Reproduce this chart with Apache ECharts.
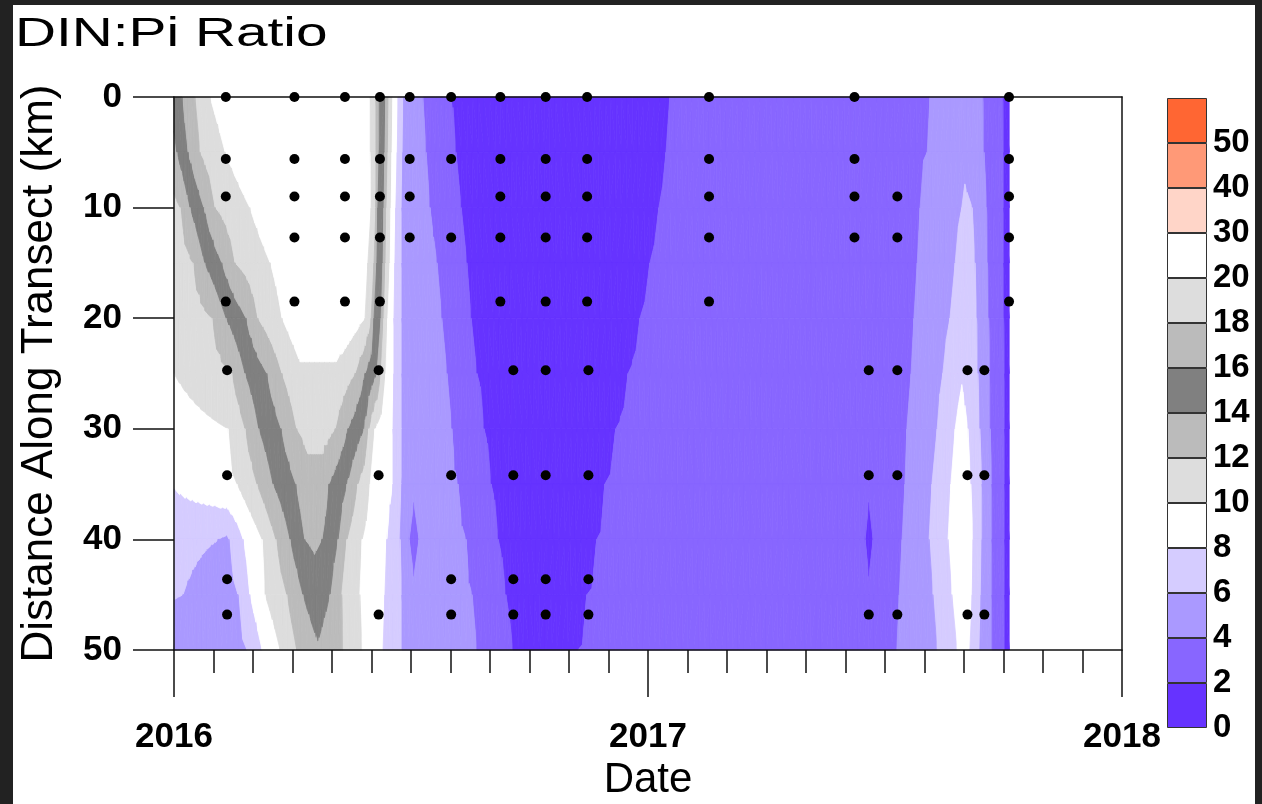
<!DOCTYPE html>
<html>
<head>
<meta charset="utf-8">
<title>DIN:Pi Ratio</title>
<script src="https://cdn.jsdelivr.net/npm/echarts@6/dist/echarts.min.js"></script>
<style>
  html, body { margin: 0; padding: 0; background: #222; width: 1262px; height: 804px; overflow: hidden; }
  #chart { position: absolute; left: 13px; top: 5px; width: 1242px; height: 799px; background: #fff; }
</style>
</head>
<body>
<div id="chart"></div>
<script>
// Contour class boundaries of the DIN:Pi ratio and the fill of each class
const levels = [0, 2, 4, 6, 8, 10, 12, 14, 16, 18, 20, 30, 40, 50];
const bandColors = [
  '#6633ff', '#8866ff', '#aa99ff', '#d5ccff', '#ffffff',
  '#dddddd', '#bbbbbb', '#808080', '#bbbbbb', '#dddddd',
  '#ffffff', '#ffd5c8', '#ff9977', '#ff6633'
];

// Distance along the transect (km) of each gridded profile row
const rowDistances = [0, 5, 10, 15, 20, 25, 30, 35, 40, 45, 50];

// Gridded ratio along each row: [decimal year, DIN:Pi]
const ratio0km = [[2016.000,14.8],[2016.017,16],[2016.044,18],[2016.076,20],[2016.245,26],[2016.414,20],[2016.426,18],[2016.433,16],[2016.447,14],[2016.454,12],[2016.462,10],[2016.473,8],[2016.485,6],[2016.525,4],[2016.582,2],[2016.772,0.6],[2017.046,2],[2017.321,3.0],[2017.595,4],[2017.658,5.4],[2017.707,4],[2017.749,2],[2017.762,1.5]];
const ratio5km = [[2016.000,13.5],[2016.006,14],[2016.030,16],[2016.055,18],[2016.108,20],[2016.266,25],[2016.414,20],[2016.426,18],[2016.433,16],[2016.445,14],[2016.452,12],[2016.460,10],[2016.471,8],[2016.483,6],[2016.532,4],[2016.595,2],[2016.793,0.6],[2017.038,2],[2017.321,3.0],[2017.589,4],[2017.662,5.6],[2017.709,4],[2017.751,2],[2017.762,1.5]];
const ratio10km = [[2016.000,11.5],[2016.013,12],[2016.034,14],[2016.063,16],[2016.087,18],[2016.160,20],[2016.287,24],[2016.416,20],[2016.426,18],[2016.430,16],[2016.443,14],[2016.449,12],[2016.458,10],[2016.468,8],[2016.481,6],[2016.540,4],[2016.606,2],[2016.804,0.6],[2017.023,2],[2017.321,3.0],[2017.574,4],[2017.662,6],[2017.673,6.3],[2017.684,6],[2017.715,4],[2017.751,2],[2017.762,1.5]];
const ratio15km = [[2016.000,10.8],[2016.040,12],[2016.065,14],[2016.101,16],[2016.129,18],[2016.203,20],[2016.308,23],[2016.409,20],[2016.422,18],[2016.428,16],[2016.441,14],[2016.447,12],[2016.456,10],[2016.466,8],[2016.481,6],[2016.555,4],[2016.618,2],[2016.804,0.6],[2017.004,2],[2017.321,3.0],[2017.568,4],[2017.648,6],[2017.669,7],[2017.690,6],[2017.717,4],[2017.751,2],[2017.762,1.5]];
const ratio20km = [[2016.000,10.3],[2016.080,12],[2016.110,14],[2016.152,16],[2016.177,18],[2016.228,20],[2016.266,21.5],[2016.361,21.5],[2016.403,20],[2016.416,18],[2016.422,16],[2016.437,14],[2016.443,12],[2016.451,10],[2016.464,8],[2016.481,6],[2016.565,4],[2016.627,2],[2016.804,0.6],[2016.983,2],[2017.321,3.0],[2017.561,4],[2017.637,6],[2017.665,7.5],[2017.694,6],[2017.719,4],[2017.751,2],[2017.762,1.5]];
const ratio25km = [[2016.000,10.0],[2016.122,12],[2016.150,14],[2016.196,16],[2016.228,18],[2016.266,19.6],[2016.340,19.6],[2016.382,18],[2016.403,16],[2016.428,14],[2016.437,12],[2016.447,10],[2016.464,8],[2016.481,6],[2016.576,4],[2016.639,2],[2016.793,0.6],[2016.958,2],[2017.321,3.0],[2017.555,4],[2017.622,6],[2017.662,7.8],[2017.696,6],[2017.722,4],[2017.753,2],[2017.762,1.5]];
const ratio30km = [[2016.000,9.0],[2016.114,10],[2016.150,12],[2016.179,14],[2016.226,16],[2016.259,18],[2016.283,18.5],[2016.325,18.5],[2016.340,18],[2016.367,16],[2016.401,14],[2016.411,12],[2016.424,10],[2016.462,8],[2016.481,6],[2016.586,4],[2016.654,2],[2016.793,0.6],[2016.932,2],[2017.321,3.0],[2017.546,4],[2017.610,6],[2017.648,8],[2017.662,8.8],[2017.675,8],[2017.700,6],[2017.722,4],[2017.753,2],[2017.762,1.5]];
const ratio35km = [[2016.000,8.1],[2016.133,10],[2016.175,12],[2016.209,14],[2016.257,16],[2016.283,17.4],[2016.310,17.4],[2016.327,16],[2016.365,14],[2016.388,12],[2016.414,10],[2016.462,8],[2016.481,6],[2016.506,4.2],[2016.540,4.6],[2016.599,4],[2016.669,2],[2016.789,0.6],[2016.909,2],[2017.321,2.9],[2017.466,2.2],[2017.542,4],[2017.599,6],[2017.639,8],[2017.660,9.2],[2017.681,8],[2017.705,6],[2017.726,4],[2017.753,2],[2017.762,1.5]];
const ratio40km = [[2016.000,7.0],[2016.093,6],[2016.112,5.7],[2016.116,6],[2016.146,8],[2016.186,10],[2016.215,12],[2016.245,14],[2016.276,16],[2016.295,16.3],[2016.312,16],[2016.346,14],[2016.365,12],[2016.397,10],[2016.449,8],[2016.477,6],[2016.496,4],[2016.506,3.6],[2016.517,4],[2016.551,4.6],[2016.616,4],[2016.684,2],[2016.789,0.6],[2016.892,2],[2017.321,2.8],[2017.458,2],[2017.466,1.6],[2017.475,2],[2017.536,4],[2017.593,6],[2017.633,8],[2017.658,9.4],[2017.686,8],[2017.705,6],[2017.726,4],[2017.753,2],[2017.762,1.5]];
const ratio45km = [[2016.000,6.1],[2016.019,6],[2016.080,4.6],[2016.135,6],[2016.160,8],[2016.192,10],[2016.238,12],[2016.272,14],[2016.300,15.2],[2016.329,14],[2016.354,12],[2016.392,10],[2016.445,8],[2016.481,6],[2016.506,4.2],[2016.551,4.6],[2016.629,4],[2016.700,2],[2016.785,0.6],[2016.871,2],[2017.321,2.8],[2017.466,2.2],[2017.530,4],[2017.601,6],[2017.641,8],[2017.662,9.2],[2017.684,8],[2017.703,6],[2017.726,4],[2017.753,2],[2017.762,1.5]];
const ratio50km = [[2016.000,5.0],[2016.080,4.5],[2016.154,6],[2016.186,8],[2016.224,10],[2016.259,12],[2016.304,13.8],[2016.357,12],[2016.397,10],[2016.441,8],[2016.481,6],[2016.561,4.8],[2016.639,4],[2016.715,2],[2016.783,0.6],[2016.852,2],[2017.321,2.8],[2017.525,4],[2017.610,6],[2017.652,8],[2017.665,8.8],[2017.679,8],[2017.700,6],[2017.726,4],[2017.753,2],[2017.762,1.5]];

const fieldRows = [ratio0km, ratio5km, ratio10km, ratio15km, ratio20km, ratio25km,
                   ratio30km, ratio35km, ratio40km, ratio45km, ratio50km];

// Sampling cruises and the stations (km along transect) occupied on each
const cruiseDates = [
  '2016-02-10', '2016-02-11', '2016-04-03', '2016-05-12', '2016-06-08', '2016-06-07',
  '2016-07-01', '2016-08-02', '2016-09-09', '2016-09-19', '2016-10-14', '2016-11-15',
  '2016-11-16', '2017-02-17', '2017-06-09', '2017-06-20', '2017-07-12', '2017-09-04',
  '2017-09-17', '2017-10-06'
];
const cruiseStations = [
  [0, 5.6, 9.0, 18.5], [24.7, 34.2, 43.6, 46.8], [0, 5.6, 9.0, 12.7, 18.5],
  [0, 5.6, 9.0, 12.7, 18.5], [0, 5.6, 9.0, 12.7, 18.5], [24.7, 34.2, 46.8],
  [0, 5.6, 9.0, 12.7], [0, 5.6, 12.7, 34.2, 43.6, 46.8], [0, 5.6, 9.0, 12.7, 18.5],
  [24.7, 34.2, 43.6, 46.8], [0, 5.6, 9.0, 12.7, 18.5, 24.7, 34.2, 43.6, 46.8],
  [0, 5.6, 9.0, 12.7, 18.5], [24.7, 34.2, 43.6, 46.8], [0, 5.6, 9.0, 12.7, 18.5],
  [0, 5.6, 9.0, 12.7], [24.7, 34.2, 46.8], [9.0, 12.7, 24.7, 34.2, 46.8],
  [24.7, 34.2, 46.8], [24.7, 34.2, 46.8], [0, 5.6, 9.0, 12.7, 18.5]
];

// ---- helpers -------------------------------------------------------------
function decimalYear(s) {
  const [y, m, d] = s.split('-').map(Number);
  const start = Date.UTC(y, 0, 1), end = Date.UTC(y + 1, 0, 1);
  return y + (Date.UTC(y, m - 1, d) - start) / (end - start);
}

// piecewise-linear value of a row at a given time
function profileAt(row, x) {
  if (x <= row[0][0]) return row[0][1];
  for (let k = 1; k < row.length; k++) {
    if (x <= row[k][0]) {
      const x0 = row[k - 1][0], v0 = row[k - 1][1], x1 = row[k][0], v1 = row[k][1];
      return x1 === x0 ? v1 : v0 + (v1 - v0) * (x - x0) / (x1 - x0);
    }
  }
  return row[row.length - 1][1];
}

// shared x nodes of two neighbouring rows, refined so no column is too wide
function stripNodes(rowA, rowB, step) {
  const xs = rowA.map(p => p[0]).concat(rowB.map(p => p[0])).sort((a, b) => a - b);
  const uniq = [];
  xs.forEach(x => { if (!uniq.length || x - uniq[uniq.length - 1] > 1e-7) uniq.push(x); });
  const out = [uniq[0]];
  for (let k = 1; k < uniq.length; k++) {
    const a = uniq[k - 1], b = uniq[k];
    const n = Math.max(1, Math.ceil((b - a) / step));
    for (let s = 1; s <= n; s++) out.push(a + (b - a) * s / n);
  }
  return out;
}

// keep the part of a polygon above (or below) a level, linear in value
function clipLevel(poly, L, keepAbove) {
  const out = [];
  for (let k = 0; k < poly.length; k++) {
    const p = poly[k], q = poly[(k + 1) % poly.length];
    const pin = keepAbove ? p[2] >= L : p[2] <= L;
    const qin = keepAbove ? q[2] >= L : q[2] <= L;
    if (pin) out.push(p);
    if (pin !== qin) {
      const t = (L - p[2]) / (q[2] - p[2]);
      out.push([p[0] + t * (q[0] - p[0]), p[1] + t * (q[1] - p[1]), L]);
    }
  }
  return out;
}

function polyArea(pts) {
  let a = 0;
  for (let k = 0; k < pts.length; k++) {
    const p = pts[k], q = pts[(k + 1) % pts.length];
    a += p[0] * q[1] - q[0] * p[1];
  }
  return a / 2;
}

// filled contour bands between row k and row k+1
function renderStrip(params, api) {
  const k = params.dataIndex;
  const rowA = fieldRows[k], rowB = fieldRows[k + 1];
  const dA = rowDistances[k], dB = rowDistances[k + 1];
  const xs = stripNodes(rowA, rowB, 0.012);
  const children = [];

  const emit = tri => {
    const vs = tri.map(p => p[2]);
    const vmin = Math.min.apply(null, vs), vmax = Math.max.apply(null, vs);
    for (let b = 0; b < levels.length; b++) {
      const lo = levels[b];
      const hi = b + 1 < levels.length ? levels[b + 1] : Infinity;
      if (vmax < lo || vmin >= hi) continue;
      let poly = tri;
      if (vmin < lo) poly = clipLevel(poly, lo, true);
      if (poly.length >= 3 && vmax > hi) poly = clipLevel(poly, hi, false);
      if (poly.length < 3) continue;
      const pts = poly.map(p => api.coord([p[0], p[1]]));
      if (Math.abs(polyArea(pts)) < 0.02) continue;
      children.push({
        type: 'polygon',
        shape: { points: pts },
        style: { fill: bandColors[b], stroke: bandColors[b], lineWidth: 0.8 },
        silent: true
      });
    }
  };

  for (let n = 0; n < xs.length - 1; n++) {
    const x0 = xs[n], x1 = xs[n + 1];
    const a0 = [x0, dA, profileAt(rowA, x0)], a1 = [x1, dA, profileAt(rowA, x1)];
    const b0 = [x0, dB, profileAt(rowB, x0)], b1 = [x1, dB, profileAt(rowB, x1)];
    if (Math.abs(a0[2] - b1[2]) <= Math.abs(a1[2] - b0[2])) {
      emit([a0, a1, b1]); emit([a0, b1, b0]);
    } else {
      emit([a0, a1, b0]); emit([a1, b1, b0]);
    }
  }
  return { type: 'group', children: children };
}

// ---- chart ---------------------------------------------------------------
const stationPoints = [];
cruiseDates.forEach((d, i) => {
  const t = decimalYear(d);
  cruiseStations[i].forEach(km => stationPoints.push([t, km]));
});

const stripData = rowDistances.slice(0, -1).map(d => [2016, d]);

const axisLineStyle = { color: '#111', width: 1.5 };
const FONT = 'Liberation Sans';

const colorbarSeries = bandColors.map(c => ({
  type: 'bar',
  xAxisIndex: 2,
  yAxisIndex: 2,
  stack: 'legend',
  data: [1],
  barWidth: '100%',
  silent: true,
  itemStyle: { color: c, borderColor: '#333', borderWidth: 1 },
  z: 3
}));

const option = {
  animation: false,
  textStyle: { fontFamily: FONT },
  graphic: [{
    type: 'text',
    x: 2, y: 10,
    scaleX: 1.42,
    style: {
      text: 'DIN:Pi Ratio',
      fontFamily: FONT, fontSize: 40,
      fill: '#000', align: 'left', verticalAlign: 'top'
    }
  }],
  grid: [
    { left: 161, top: 92, width: 948, height: 553, containLabel: false, outerBoundsMode: 'none' },
    { left: 1154, top: 93, width: 40, height: 630, containLabel: false, outerBoundsMode: 'none' }
  ],
  xAxis: [
    {
      gridIndex: 0, type: 'value', min: 2016, max: 2018, interval: 1,
      position: 'bottom',
      name: 'Date', nameLocation: 'middle', nameGap: 104,
      nameTextStyle: { fontFamily: FONT, fontSize: 42, color: '#000' },
      axisLine: { show: true, onZero: false, lineStyle: axisLineStyle },
      axisTick: { show: true, length: 47, lineStyle: axisLineStyle },
      minorTick: { show: true, splitNumber: 12, length: 23, lineStyle: axisLineStyle },
      axisLabel: { margin: 70, fontFamily: FONT, fontSize: 35, fontWeight: 'bold', color: '#000',
                   formatter: v => String(v) },
      splitLine: { show: false },
      z: 5
    },
    {
      gridIndex: 0, type: 'value', min: 2016, max: 2018, position: 'top',
      axisLine: { show: true, onZero: false, lineStyle: axisLineStyle },
      axisTick: { show: false }, axisLabel: { show: false }, splitLine: { show: false },
      z: 5
    },
    { gridIndex: 1, type: 'category', data: [''], show: false }
  ],
  yAxis: [
    {
      gridIndex: 0, type: 'value', inverse: true, min: 0, max: 50, interval: 10,
      name: 'Distance Along Transect (km)', nameLocation: 'middle', nameRotate: 90, nameGap: 112,
      nameTextStyle: { fontFamily: FONT, fontSize: 44, color: '#000' },
      axisLine: { show: true, onZero: false, lineStyle: axisLineStyle },
      axisTick: { show: true, length: 41, lineStyle: axisLineStyle },
      axisLabel: { margin: 52, fontFamily: FONT, fontSize: 35, fontWeight: 'bold', color: '#000' },
      splitLine: { show: false },
      z: 5
    },
    {
      gridIndex: 0, type: 'value', inverse: true, min: 0, max: 50, position: 'right',
      axisLine: { show: true, onZero: false, lineStyle: axisLineStyle },
      axisTick: { show: false }, axisLabel: { show: false }, splitLine: { show: false },
      z: 5
    },
    {
      gridIndex: 1, type: 'value', min: 0, max: levels.length, interval: 1, position: 'right',
      axisLine: { show: false }, axisTick: { show: false }, splitLine: { show: false },
      axisLabel: {
        margin: 6, fontFamily: FONT, fontSize: 33, fontWeight: 'bold', color: '#000',
        formatter: v => (v < levels.length ? String(levels[v]) : '')
      }
    }
  ],
  series: [
    {
      type: 'custom',
      xAxisIndex: 0, yAxisIndex: 0,
      renderItem: renderStrip,
      data: stripData,
      silent: true,
      z: 1
    },
    {
      type: 'scatter',
      xAxisIndex: 0, yAxisIndex: 0,
      data: stationPoints,
      symbol: 'circle',
      symbolSize: 10,
      itemStyle: { color: '#000', opacity: 1 },
      silent: true,
      z: 6
    }
  ].concat(colorbarSeries)
};

const chart = echarts.init(document.getElementById('chart'), null, { renderer: 'canvas' });
chart.setOption(option);
</script>
</body>
</html>
